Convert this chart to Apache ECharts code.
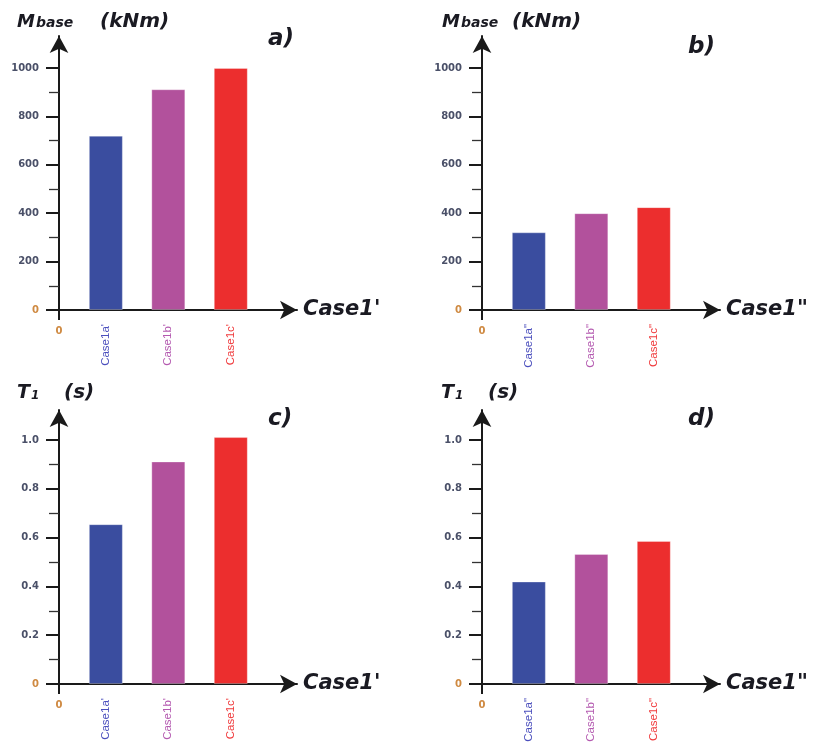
<!DOCTYPE html>
<html>
<head>
<meta charset="utf-8">
<script src="https://cdn.jsdelivr.net/npm/echarts@6/dist/echarts.min.js"></script>
<style>html,body{margin:0;padding:0;background:#fff}#c{width:817px;height:742px}</style>
</head>
<body>
<div id="c"></div>
<script>
// ---- data ----
const casesPrime = ["Case1a'", "Case1b'", "Case1c'"];
const casesDouble = ['Case1a"', 'Case1b"', 'Case1c"'];
const casePos = [0.75, 1.75, 2.75];
const mbasePrime = [720, 912, 1000];
const mbaseDouble = [321, 400, 425];
const t1Prime = [0.655, 0.912, 1.012];
const t1Double = [0.42, 0.533, 0.586];
const mTicks = [0, 200, 400, 600, 800, 1000];
const mMinorTicks = [100, 300, 500, 700, 900];
const tTicks = [0, 0.2, 0.4, 0.6, 0.8, 1.0];
const tMinorTicks = [0.1, 0.3, 0.5, 0.7, 0.9];
const xNamePrime = "Case1'";
const xNameDouble = 'Case1"';

// ---- styles ----
const barColors = ['#3a4d9f', '#b2519c', '#ec2e2e'];
const labelColors = ['#4b4fbd', '#b45ab0', '#f03a3c'];
const axisColor = '#1a1a1a';
const tickLabelColor = '#4a5068';
const zeroColor = '#cf8a42';
const FONT = '"DejaVu Sans", sans-serif';

const panels = [
  {left: 59, top: 36, names: casesPrime, vals: mbasePrime, ticks: mTicks, minor: mMinorTicks, max: 1132, xName: xNamePrime, fmt: v => String(v)},
  {left: 482, top: 36, names: casesDouble, vals: mbaseDouble, ticks: mTicks, minor: mMinorTicks, max: 1132, xName: xNameDouble, fmt: v => String(v)},
  {left: 59, top: 410, names: casesPrime, vals: t1Prime, ticks: tTicks, minor: tMinorTicks, max: 1.123, xName: xNamePrime, fmt: v => v === 0 ? '0' : v.toFixed(1)},
  {left: 482, top: 410, names: casesDouble, vals: t1Double, ticks: tTicks, minor: tMinorTicks, max: 1.123, xName: xNameDouble, fmt: v => v === 0 ? '0' : v.toFixed(1)}
];

const grid = [], xAxis = [], yAxis = [], series = [];
panels.forEach((p, g) => {
  grid.push({left: p.left, top: p.top, width: 238, height: 274, containLabel: false, outerBoundsMode: 'none'});
  // main x axis
  xAxis.push({
    type: 'value', gridIndex: g, position: 'bottom', min: 0, max: 3.81,
    splitLine: {show: false},
    axisLine: {show: true, symbol: ['none', 'arrow'], symbolSize: [14, 17], lineStyle: {color: axisColor, width: 2}},
    axisTick: {show: true, customValues: [0], length: 10, lineStyle: {color: axisColor, width: 2}},
    axisLabel: {show: true, customValues: [0], margin: 16, color: zeroColor, fontSize: 10, fontWeight: 'bold', fontFamily: FONT},
    name: p.xName, nameLocation: 'end', nameGap: 6,
    nameTextStyle: {fontFamily: FONT, fontSize: 21, fontWeight: 'bold', fontStyle: 'italic', color: '#1a1a22', verticalAlign: 'middle', align: 'left'}
  });
  // category-name axis
  xAxis.push({
    type: 'value', gridIndex: g, position: 'bottom', min: 0, max: 3.81,
    splitLine: {show: false}, axisLine: {show: false}, axisTick: {show: false},
    axisLabel: {
      show: true, customValues: casePos, rotate: 90, margin: 14,
      fontFamily: '"Liberation Sans", Arial, sans-serif', fontSize: 11.5,
      formatter: v => { const i = casePos.indexOf(v); return '{c' + i + '|' + p.names[i] + '}'; },
      rich: {c0: {color: labelColors[0]}, c1: {color: labelColors[1]}, c2: {color: labelColors[2]}}
    }
  });
  yAxis.push({
    type: 'value', gridIndex: g, position: 'left', min: 0, max: p.max,
    splitLine: {show: false},
    axisLine: {show: true, symbol: ['none', 'arrow'], symbolSize: [14, 17], lineStyle: {color: axisColor, width: 2}},
    axisTick: {show: true, customValues: p.ticks, length: 13, lineStyle: {color: axisColor, width: 2}},
    axisLabel: {show: true, customValues: p.ticks, margin: 20, fontSize: 10, fontWeight: 'bold', fontFamily: FONT,
      formatter: p.fmt, color: v => (Number(v) === 0 ? zeroColor : tickLabelColor)}
  });
  yAxis.push({
    type: 'value', gridIndex: g, position: 'left', min: 0, max: p.max,
    splitLine: {show: false}, axisLine: {show: false}, axisLabel: {show: false},
    axisTick: {show: true, customValues: p.minor, length: 10, lineStyle: {color: '#333', width: 1.3}}
  });
  series.push({
    type: 'bar', xAxisIndex: 2 * g, yAxisIndex: 2 * g, barWidth: 34,
    data: p.vals.map((v, i) => ({value: [casePos[i], v], itemStyle: {color: barColors[i]}})),
    itemStyle: {borderColor: 'rgba(255,255,255,0.3)', borderWidth: 1}
  });
});

function txt(x, y, s, size) {
  return {type: 'text', x: x, y: y, silent: true,
    style: {text: s, font: 'italic bold ' + size + 'px "DejaVu Sans"', fill: '#1a1a22', verticalAlign: 'middle', align: 'left'}};
}

const graphic = [
  txt(17, 22, 'M', 18), txt(36, 23.5, 'base', 14), txt(100, 21.5, '(kNm)', 20), txt(268, 39, 'a)', 23),
  txt(442, 22, 'M', 18), txt(461, 23.5, 'base', 14), txt(512, 21.5, '(kNm)', 20), txt(688, 47, 'b)', 23),
  txt(17, 393.5, 'T', 19), txt(31, 396, '1', 12), txt(64, 393, '(s)', 20), txt(268, 419, 'c)', 23),
  txt(441, 393.5, 'T', 19), txt(455, 396, '1', 12), txt(488, 393, '(s)', 20), txt(688, 419, 'd)', 23)
];

const chart = echarts.init(document.getElementById('c'));
chart.setOption({animation: false, backgroundColor: '#fff', grid, xAxis, yAxis, series, graphic});
</script>
</body>
</html>
